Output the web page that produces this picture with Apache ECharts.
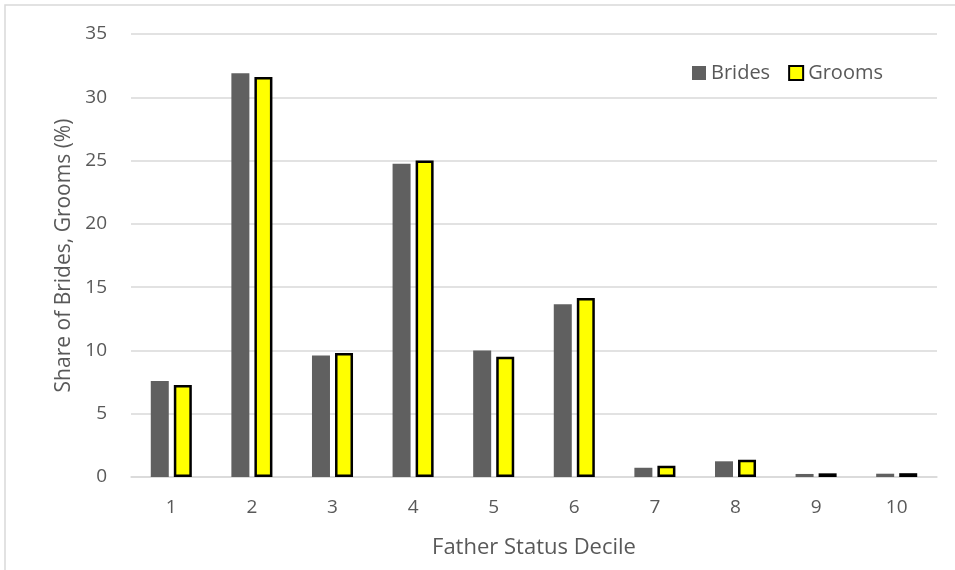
<!DOCTYPE html>
<html>
<head>
<meta charset="utf-8">
<script src="https://cdn.jsdelivr.net/npm/echarts@6/dist/echarts.min.js"></script>
<style>html,body{margin:0;padding:0;background:#fff;}#c{width:955px;height:570px;}</style>
</head>
<body>
<div id="c"></div>
<script>
const categories = ['1','2','3','4','5','6','7','8','9','10'];
const brides = [7.58, 31.9, 9.6, 24.75, 10.0, 13.65, 0.73, 1.24, 0.24, 0.26];
const grooms = [7.27, 31.6, 9.8, 25.0, 9.5, 14.15, 0.88, 1.37, 0.29, 0.3];
const yTicks = {min: 0, max: 35, interval: 5};

const txt = '#595959';
const font = 'Open Sans';
const chart = echarts.init(document.getElementById('c'));
chart.setOption({
  animation: false,
  textStyle: {fontFamily: font},
  graphic: [{
    type: 'rect', silent: true, z: -1,
    shape: {x: 5, y: 5, width: 960, height: 600},
    style: {fill: 'none', stroke: '#d9d9d9', lineWidth: 1.5}
  }],
  grid: {left: 131, right: 18, top: 34, bottom: 93},
  legend: {
    left: 687, top: 58, icon: 'rect',
    itemWidth: 14, itemHeight: 14, itemGap: 18, itemTextGap: 6,
    textStyle: {color: txt, fontSize: 20, fontFamily: font},
    data: ['Brides', 'Grooms']
  },
  xAxis: {
    type: 'category', data: categories,
    name: 'Father Status Decile', nameLocation: 'middle', nameGap: 71,
    nameTextStyle: {color: txt, fontSize: 22, fontFamily: font, verticalAlign: 'middle'},
    axisLine: {lineStyle: {color: '#d9d9d9', width: 1.5}},
    axisTick: {show: false},
    axisLabel: {color: txt, fontSize: 19, fontFamily: font, margin: 21}
  },
  yAxis: {
    type: 'value', min: yTicks.min, max: yTicks.max, interval: yTicks.interval,
    name: 'Share of Brides, Grooms (%)', nameLocation: 'middle', nameGap: 64,
    nameTextStyle: {color: txt, fontSize: 21, fontFamily: font, verticalAlign: 'middle'},
    axisLine: {show: false}, axisTick: {show: false},
    axisLabel: {color: txt, fontSize: 19, fontFamily: font, margin: 24},
    splitLine: {lineStyle: {color: '#d9d9d9', width: 1.5}}
  },
  series: [
    {name: 'Brides', type: 'bar', data: brides, barWidth: 18, barGap: '28%',
     itemStyle: {color: '#606060'}},
    {name: 'Grooms', type: 'bar', data: grooms, barWidth: 18,
     itemStyle: {color: '#ffff00', borderColor: '#000', borderWidth: 2.5}}
  ]
});
</script>
</body>
</html>
